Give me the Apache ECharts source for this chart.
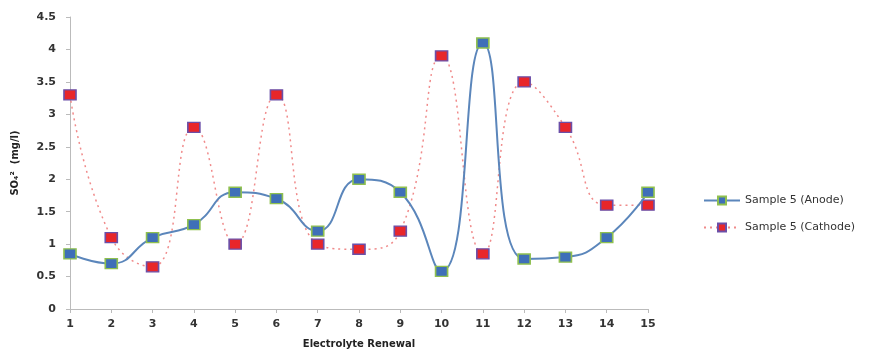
<!DOCTYPE html>
<html><head><meta charset="utf-8">
<script src="https://cdn.jsdelivr.net/npm/echarts@6/dist/echarts.min.js"></script>
<style>html,body{margin:0;padding:0;background:#fff}#c{width:876px;height:354px}</style>
</head><body><div id="c"></div>
<script>
const categories = ['1','2','3','4','5','6','7','8','9','10','11','12','13','14','15'];
const anode = [0.85, 0.7, 1.1, 1.3, 1.8, 1.7, 1.2, 2.0, 1.8, 0.58, 4.1, 0.77, 0.8, 1.1, 1.8];
const cathode = [3.3, 1.1, 0.65, 2.8, 1.0, 3.3, 1.0, 0.92, 1.2, 3.9, 0.85, 3.5, 2.8, 1.6, 1.6];
const yTicks = { min: 0, max: 4.5, interval: 0.5 };

const chart = echarts.init(document.getElementById('c'));
const lab = { fontFamily: 'DejaVu Sans', fontWeight: 'bold', fontSize: 11, color: '#333' };
chart.setOption({
  animation: false,
  grid: { left: 70, right: 228, top: 17, bottom: 44 },
  xAxis: {
    type: 'category', data: categories, boundaryGap: false,
    name: 'Electrolyte Renewal', nameLocation: 'middle', nameGap: 30,
    nameTextStyle: Object.assign({}, lab, { fontSize: 10, color: '#222' }),
    axisLine: { lineStyle: { color: '#bbb' } },
    axisTick: { show: true, alignWithLabel: true, length: 4, lineStyle: { color: '#bbb' } },
    axisLabel: Object.assign({}, lab, { margin: 10 }),
    splitLine: { show: false }
  },
  yAxis: {
    type: 'value', min: yTicks.min, max: yTicks.max, interval: yTicks.interval,
    name: 'SO\u2084\u00b2  (mg/l)', nameLocation: 'middle', nameGap: 50,
    nameTextStyle: Object.assign({}, lab, { fontSize: 10, color: '#222' }),
    axisLine: { show: true, lineStyle: { color: '#bbb' } },
    axisTick: { show: true, length: 4, lineStyle: { color: '#bbb' } },
    axisLabel: Object.assign({}, lab, { margin: 14 }),
    splitLine: { show: false }
  },
  legend: {
    orient: 'vertical', left: 698, top: 190, itemGap: 16, itemWidth: 36, itemHeight: 10,
    textStyle: { fontFamily: 'DejaVu Sans', fontSize: 11, color: '#333' },
    data: ['Sample 5 (Anode)', 'Sample 5 (Cathode)']
  },
  series: [
    {
      name: 'Sample 5 (Anode)', type: 'line', data: anode, smooth: 0.5,
      symbol: 'rect', symbolSize: [12, 10],
      lineStyle: { color: '#5b86bb', width: 2 },
      itemStyle: { color: '#3f6fb8', borderColor: '#8fc04f', borderWidth: 1.5 },
      z: 3
    },
    {
      name: 'Sample 5 (Cathode)', type: 'line', data: cathode, smooth: 0.5,
      symbol: 'rect', symbolSize: [12, 10],
      lineStyle: { color: '#f08a8a', width: 1.5, type: [2, 4] },
      itemStyle: { color: '#e8262a', borderColor: '#6b4fa8', borderWidth: 1.5 },
      z: 2
    }
  ]
});
</script></body></html>
